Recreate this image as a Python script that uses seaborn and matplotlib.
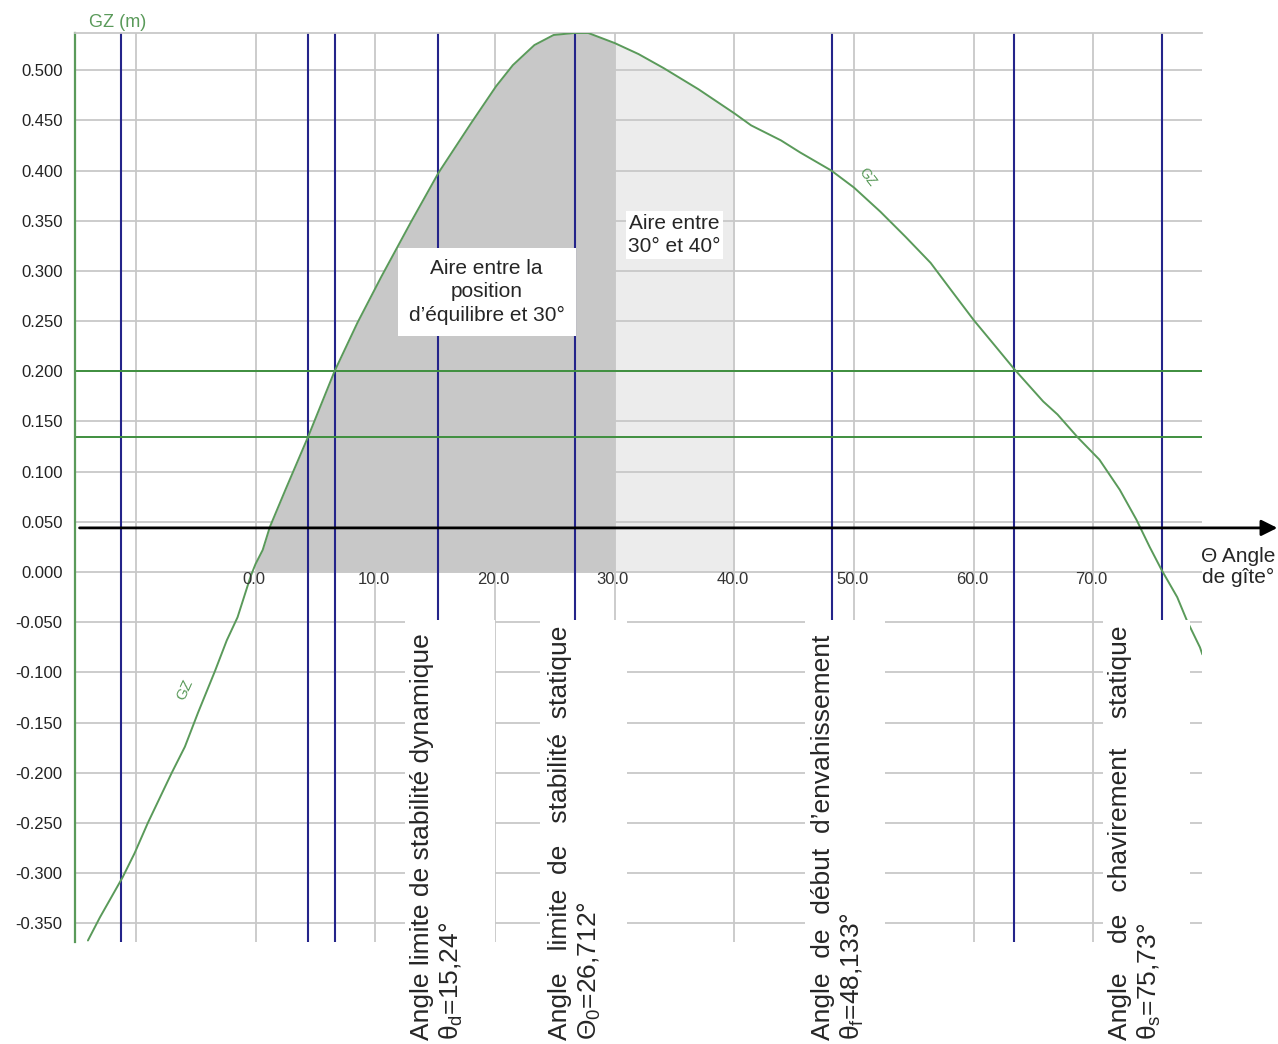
import numpy as np
import matplotlib
matplotlib.use("Agg")
import matplotlib.pyplot as plt
import matplotlib.ticker as ticker
from matplotlib.patches import Rectangle
import seaborn as sns

sns.set_style("white")
plt.rcParams["font.family"] = ["Liberation Sans", "DejaVu Sans"]
plt.rcParams["axes.unicode_minus"] = False
plt.rcParams["mathtext.fontset"] = "custom"
plt.rcParams["mathtext.rm"] = "Liberation Sans"
plt.rcParams["mathtext.it"] = "Liberation Sans:italic"

# GZ curve (angle in degrees, GZ in m)
ANGLE = [-14.0, -13.0, -11.1, -10.1, -9.0, -7.0, -5.9, -4.8, -3.4, -2.4, -1.5,
         -0.4, 0.0, 0.6, 1.2, 2.5, 4.4, 6.6, 8.5, 10.5, 13.0, 15.3, 18.0, 20.1,
         21.5, 23.3, 24.9, 26.6, 27.8, 30.0, 32.0, 34.1, 37.0, 40.0, 41.4, 43.9,
         45.5, 48.1, 50.0, 52.2, 54.3, 56.4, 58.1, 60.0, 61.6, 63.4, 65.8, 67.0,
         68.7, 70.5, 72.2, 73.6, 74.7, 75.7, 77.0, 77.8, 78.9, 79.1]
GZ = [-0.367, -0.344, -0.304, -0.280, -0.250, -0.200, -0.174, -0.140, -0.099,
      -0.068, -0.045, -0.004, 0.008, 0.022, 0.045, 0.082, 0.135, 0.200, 0.248,
      0.294, 0.349, 0.398, 0.447, 0.484, 0.505, 0.525, 0.535, 0.537, 0.537,
      0.527, 0.516, 0.502, 0.481, 0.457, 0.445, 0.430, 0.418, 0.400, 0.383,
      0.359, 0.334, 0.308, 0.281, 0.251, 0.228, 0.202, 0.170, 0.157, 0.134,
      0.112, 0.082, 0.052, 0.025, 0.002, -0.025, -0.048, -0.075, -0.082]

LIMIT_ANGLES = [-11.2, 4.4, 6.6, 15.24, 26.712, 48.133, 63.4, 75.73]
GZ_LEVELS = [0.2, 0.135]
ARROW_GZ = 0.044
AREA_DARK = (0, 30)
AREA_LIGHT = (30, 40)
X_GRID = [-10, 0, 10, 20, 30, 40, 50, 60, 70]
X_LABELS = [0, 10, 20, 30, 40, 50, 60, 70]
Y_TICKS = [-0.35, -0.30, -0.25, -0.20, -0.15, -0.10, -0.05, 0.0, 0.05, 0.10,
           0.15, 0.20, 0.25, 0.30, 0.35, 0.40, 0.45, 0.50]

ANGLE_TEXTS = [
    ("Angle limite de stabilité dynamique", r"θ$_\mathrm{d}$=15,24°"),
    ("Angle   limite  de   stabilité  statique", r"Θ$_\mathrm{0}$=26,712°"),
    ("Angle  de  début  d\u2019envahissement", r"θ$_\mathrm{f}$=48,133°"),
    ("Angle    de   chavirement    statique", r"θ$_\mathrm{s}$=75,73°"),
]
# where each rotated block sits (x of line 1, x of line 2, white box span)
TEXT_X = [(13.9, 16.4), (25.4, 27.9), (47.4, 49.9), (72.2, 74.7)]
BOX_X = [(12.5, 20.0), (23.8, 31.0), (45.9, 52.6), (70.8, 78.1)]

GREEN = "#5a9a5a"
GREEN_LINE = "#3f8f3f"
BLUE = "#24248a"
GRID = "#c8c8c8"

angle = np.array(ANGLE)
gz = np.array(GZ)

fig = plt.figure(figsize=(12.78, 10.44), dpi=100)
ax = fig.add_axes([75 / 1278, 1 - 942 / 1044, (1202 - 75) / 1278, (942 - 33) / 1044])
ax.set_xlim(-15.08, 79.07)
ax.set_ylim(-0.3685, 0.537)

# grid
ax.set_xticks(X_GRID)
ax.set_yticks(Y_TICKS)
ax.yaxis.set_major_formatter(ticker.FormatStrFormatter("%.3f"))
ax.tick_params(axis="x", length=0, labelbottom=False)
ax.tick_params(axis="y", length=0, pad=9, labelsize=12, labelcolor="#222222")
ax.grid(True, color=GRID, lw=1.3, zorder=0)
ax.set_axisbelow(True)
for side in ["right", "bottom"]:
    ax.spines[side].set_visible(False)
ax.spines["top"].set_color(GRID)
ax.spines["top"].set_linewidth(1.3)
ax.spines["left"].set_color(GREEN)
ax.spines["left"].set_linewidth(1.6)

# shaded areas
pos = np.clip(gz, 0, None)
m_light = (angle >= AREA_LIGHT[0]) & (angle <= AREA_LIGHT[1])
m_dark = (angle >= AREA_DARK[0]) & (angle <= AREA_DARK[1])
ax.fill_between(angle[m_light], 0, pos[m_light], color="#ececec", lw=0, zorder=0.5)
ax.fill_between(angle[m_dark], 0, pos[m_dark], color="#c8c8c8", lw=0, zorder=1)

for a in LIMIT_ANGLES:
    ax.axvline(a, color=BLUE, lw=1.5, zorder=2)
for g in GZ_LEVELS:
    ax.axhline(g, color=GREEN_LINE, lw=1.4, zorder=2.5)

sns.lineplot(x=angle, y=gz, color=GREEN, lw=1.4, ax=ax, zorder=3)

# heel angle axis arrow
ax.annotate("", xy=(0.9995, ARROW_GZ), xycoords=("figure fraction", "data"),
            xytext=(-14.7, ARROW_GZ), textcoords="data",
            arrowprops=dict(arrowstyle="-|>", color="black", lw=2,
                            mutation_scale=24, shrinkA=0, shrinkB=0),
            annotation_clip=False, zorder=4)

for v in X_LABELS:
    ax.text(v - 0.15, 0.0, f"{v:.1f}", ha="center", va="top", fontsize=12,
            color="#333333", zorder=4)

ax.text(-11.5, 0.547, "GZ (m)", color=GREEN, fontsize=13, ha="center",
        va="center", clip_on=False)
ax.text(82.1, 0.005, "Θ Angle\nde gîte°", ha="center", va="center",
        fontsize=15, linespacing=1.15, clip_on=False)

ax.text(-5.87, -0.1175, "GZ", color=GREEN, fontsize=11, rotation=66,
        ha="center", va="center", zorder=3)
ax.text(51.1, 0.393, "GZ", color=GREEN, fontsize=10, rotation=-52,
        ha="center", va="center", zorder=3)

# area labels
ax.text(19.3, 0.279, "Aire entre la\nposition\nd\u2019équilibre et 30°",
        ha="center", va="center", fontsize=15, linespacing=1.3, zorder=6,
        bbox=dict(fc="white", ec="none", pad=8))
ax.text(35.0, 0.336, "Aire entre\n30° et 40°", ha="center", va="center",
        fontsize=15, linespacing=1.3, zorder=6,
        bbox=dict(fc="white", ec="none", pad=2))

# rotated angle labels on white boxes under the axis
for (l1, l2), (x1, x2), (b0, b1) in zip(ANGLE_TEXTS, TEXT_X, BOX_X):
    ax.add_patch(Rectangle((b0, -0.48), b1 - b0, 0.432, fc="white", ec="none",
                           zorder=5, clip_on=False))
    ax.text(x1, -0.466, l1, rotation=90, ha="center", va="bottom",
            fontsize=19, zorder=6, clip_on=False)
    ax.text(x2, -0.466, l2, rotation=90, ha="center", va="bottom",
            fontsize=19, zorder=6, clip_on=False)

fig.savefig("out.png", dpi=100)
